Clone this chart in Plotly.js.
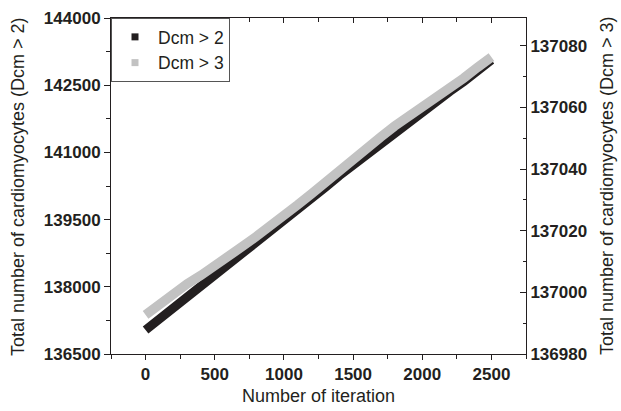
<!DOCTYPE html>
<html>
<head>
<meta charset="utf-8">
<script src="https://cdn.plot.ly/plotly-3.0.1.min.js"></script>
<style>
html,body{margin:0;padding:0;background:#fff;}
#chart{width:621px;height:411px;}
</style>
</head>
<body>
<div id="chart"></div>
<script>
// Data
const iterations = [0,100,200,300,400,500,600,700,800,900,1000,1100,1200,1300,1400,1500,1600,1700,1800,1900,2000,2100,2200,2300,2400,2500];
const dcm2 = [137036,137277,137518,137759,138000,138241,138482,138723,138964,139205,139446,139700,139960,140220,140478,140719,140960,141201,141442,141661,141902,142121,142362,142580,142821,143062];
const dcm3 = [136992.7,136996.2,136999.6,137002.7,137005.5,137008.4,137011.7,137014.9,137018.1,137021.3,137024.8,137028.4,137032.0,137035.8,137040.0,137043.7,137046.9,137050.4,137053.9,137056.9,137060.1,137063.0,137066.2,137069.5,137073.0,137076.3];
const seriesNames = ["Dcm > 2", "Dcm > 3"];
const xTickVals = [0,500,1000,1500,2000,2500];
const yLeftTickVals = [136500,138000,139500,141000,142500,144000];
const yRightTickVals = [136980,137000,137020,137040,137060,137080];
const yLeftTitle = "Total number of cardiomyocytes (Dcm > 2)";
const yRightTitle = "Total number of cardiomyocytes (Dcm > 3)";
const xTitle = "Number of iteration";

const FONT = "'Liberation Sans', Arial, Helvetica, sans-serif";
const INK = "#231f20";
const BLACK = "#231f20";
const GRAY = "#c2c2c2";

const traces = [
  {x: iterations, y: dcm2, mode: "lines", line: {color: BLACK, width: 9}, showlegend: false, xaxis: "x", yaxis: "y", hoverinfo: "skip"},
  {x: iterations, y: dcm3, mode: "lines", line: {color: GRAY, width: 9.5}, showlegend: false, xaxis: "x2", yaxis: "y2", hoverinfo: "skip"},
  {x: [null], y: [null], mode: "markers", name: seriesNames[0], marker: {symbol: "square", size: 7, color: BLACK}, xaxis: "x", yaxis: "y"},
  {x: [null], y: [null], mode: "markers", name: seriesNames[1], marker: {symbol: "square", size: 7, color: GRAY}, xaxis: "x", yaxis: "y"}
];

const tickFont = {family: FONT, size: 17, color: INK, weight: "bold"};
const titleFont = {family: FONT, size: 18, color: INK};

const layout = {
  width: 621, height: 411,
  margin: {l: 111, r: 95, t: 18, b: 57},
  paper_bgcolor: "#fff", plot_bgcolor: "#fff",
  showlegend: true,
  legend: {x: 0, y: 1, xanchor: "left", yanchor: "top", bgcolor: "#fff", bordercolor: "#555", borderwidth: 1,
           font: {family: FONT, size: 17.5, color: INK}, itemwidth: 36, tracegroupgap: 0, entrywidth: 125},
  xaxis: {
    range: [-250, 2750], tickvals: xTickVals, ticktext: xTickVals.map(String),
    ticks: "outside", ticklen: 5, tickwidth: 1, tickcolor: INK,
    minor: {tickvals: [-250,250,750,1250,1750,2250,2750], ticks: "outside", ticklen: 4, tickcolor: INK},
    showline: true, linecolor: INK, linewidth: 1, showgrid: false, zeroline: false,
    tickfont: tickFont,
    title: {text: xTitle, font: titleFont, standoff: 5}
  },
  xaxis2: {
    overlaying: "x", side: "top", anchor: "y2", range: [-250, 2750],
    tickvals: xTickVals, ticks: "inside", ticklen: 5, tickcolor: INK,
    minor: {tickvals: [250,750,1250,1750,2250], ticks: "inside", ticklen: 4, tickcolor: INK},
    showticklabels: false, showline: true, linecolor: INK, linewidth: 1, showgrid: false, zeroline: false
  },
  yaxis: {
    range: [136500, 144000], tickvals: yLeftTickVals, ticktext: yLeftTickVals.map(String),
    ticks: "outside", ticklen: 6, tickcolor: INK,
    minor: {tickvals: [137250,138750,140250,141750,143250], ticks: "outside", ticklen: 4, tickcolor: INK},
    showline: true, linecolor: INK, linewidth: 1, showgrid: false, zeroline: false,
    tickfont: tickFont
  },
  yaxis2: {
    overlaying: "y", side: "right", anchor: "x2", range: [136980, 137089],
    tickvals: yRightTickVals, ticktext: yRightTickVals.map(String),
    ticks: "inside", ticklen: 6, tickcolor: INK,
    minor: {tickvals: [136990,137010,137030,137050,137070], ticks: "inside", ticklen: 3, tickcolor: INK},
    showline: true, linecolor: INK, linewidth: 1, showgrid: false, zeroline: false,
    tickfont: tickFont
  },
  annotations: [
    {text: yLeftTitle, xref: "paper", yref: "paper", x: -0.2241, y: 0.5, xanchor: "center", yanchor: "middle",
     textangle: -90, showarrow: false, font: titleFont},
    {text: yRightTitle, xref: "paper", yref: "paper", x: 1.1952, y: 0.5, xanchor: "center", yanchor: "middle",
     textangle: -90, showarrow: false, font: titleFont}
  ]
};

Plotly.newPlot("chart", traces, layout, {staticPlot: true, displayModeBar: false});
</script>
</body>
</html>
